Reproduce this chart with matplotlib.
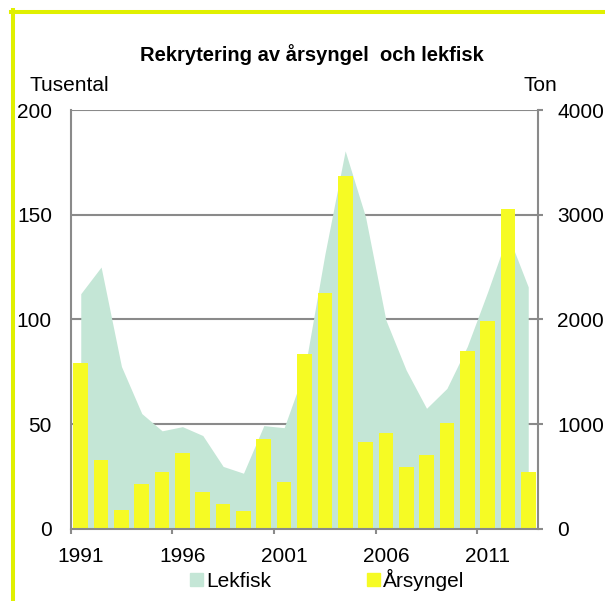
import numpy as np
import matplotlib
matplotlib.use("Agg")
import matplotlib.pyplot as plt
from matplotlib.lines import Line2D
from matplotlib.patches import Patch

plt.rcParams['font.family'] = ['Liberation Sans', 'DejaVu Sans']

# data
years = list(range(1991, 2014))
arsyngel = [79, 33, 9, 21.5, 27, 36, 17.5, 12, 8.5, 43, 22.5, 83.5,
            112.5, 168.5, 41.5, 45.5, 29.5, 35, 50.5, 85, 99, 152.5, 27]  # tusental
lekfisk = [2245, 2500, 1550, 1100, 935, 975, 890, 595, 530, 985, 965, 1510,
           2620, 3610, 2980, 1995, 1515, 1150, 1340, 1740, 2260, 2810, 2310]  # ton
year_labels = ['1991', '1996', '2001', '2006', '2011']

bar_color = '#f6fb24'
area_color = '#c4e6d6'
axis_gray = '#8a8a8a'

fig = plt.figure(figsize=(6.05, 6.01), dpi=100)
ax = fig.add_axes([70.6 / 605, 1 - 528.7 / 601, (538.4 - 70.6) / 605, (528.7 - 110) / 601])
ax2 = ax.twinx()

x = np.arange(len(years))

# Lekfisk area on the base axes (right-hand scale), bars on the twin (left-hand scale)
ax.fill_between(x, 0, lekfisk, color=area_color, linewidth=0)
ax2.bar(x, arsyngel, width=0.72, color=bar_color, linewidth=0)

ax.set_xlim(-0.5, len(years) - 0.5)
ax.set_ylim(0, 4000)
ax2.set_ylim(0, 200)

ax.yaxis.tick_right()
ax2.yaxis.tick_left()
ax.set_yticks([0, 1000, 2000, 3000, 4000])
ax2.set_yticks([0, 50, 100, 150, 200])

ax.set_axisbelow(True)
ax.yaxis.grid(True, color=axis_gray, linewidth=1.5)

for s in ax.spines.values():
    s.set_visible(False)
ax2.spines['top'].set_visible(False)
for side in ['left', 'right', 'bottom']:
    ax2.spines[side].set_color(axis_gray)
    ax2.spines[side].set_linewidth(1.5)

ax.tick_params(axis='y', which='major', direction='out', length=3.6, width=1.5,
               color=axis_gray, labelsize=15, pad=9.8)
ax2.tick_params(axis='y', length=0, labelsize=15, pad=13.4)

# x axis: marks at category boundaries, labels in category centres
ax.set_xticks([-0.5, 4.5, 9.5, 14.5, 19.5])
ax.set_xticklabels([])
ax.set_xticks([0, 5, 10, 15, 20], minor=True)
ax.set_xticklabels(year_labels, minor=True)
ax.tick_params(axis='x', which='major', direction='out', length=3.6, width=1.5, color=axis_gray)
ax.tick_params(axis='x', which='minor', length=0, labelsize=15, pad=13)

# small inside marks from the area series' own category axis
sec = ax2.secondary_xaxis('bottom')
sec.set_xticks([2, 7, 12, 17, 22])
sec.set_xticklabels([])
sec.tick_params(direction='in', length=3, width=1.5, color=axis_gray)
sec.spines['bottom'].set_visible(False)

fig.text(0.516, 0.899, 'Rekrytering av årsyngel  och lekfisk', ha='center', va='baseline',
         fontsize=14.5, fontweight='bold')
fig.text(29 / 605, 0.849, 'Tusental', ha='left', va='baseline', fontsize=15)
fig.text(523 / 605, 0.849, 'Ton', ha='left', va='baseline', fontsize=15)

handles = [Patch(color=area_color, label='Lekfisk'), Patch(color=bar_color, label='Årsyngel')]
fig.legend(handles=handles, loc='center', bbox_to_anchor=(0.541, 0.035), ncol=2, frameon=False,
           fontsize=15, handlelength=0.62, handleheight=0.62, handletextpad=0.16,
           columnspacing=4.6, borderpad=0)

# frame border (cropped on the right and bottom)
fig.add_artist(Line2D([11 / 605, 1], [1 - 12 / 601, 1 - 12 / 601], color='#e0f000',
                      linewidth=2.9, transform=fig.transFigure))
fig.add_artist(Line2D([13 / 605, 13 / 605], [1 - 10 / 601, 0], color='#e0f000',
                      linewidth=2.9, transform=fig.transFigure))

fig.savefig('out.png', dpi=100)
